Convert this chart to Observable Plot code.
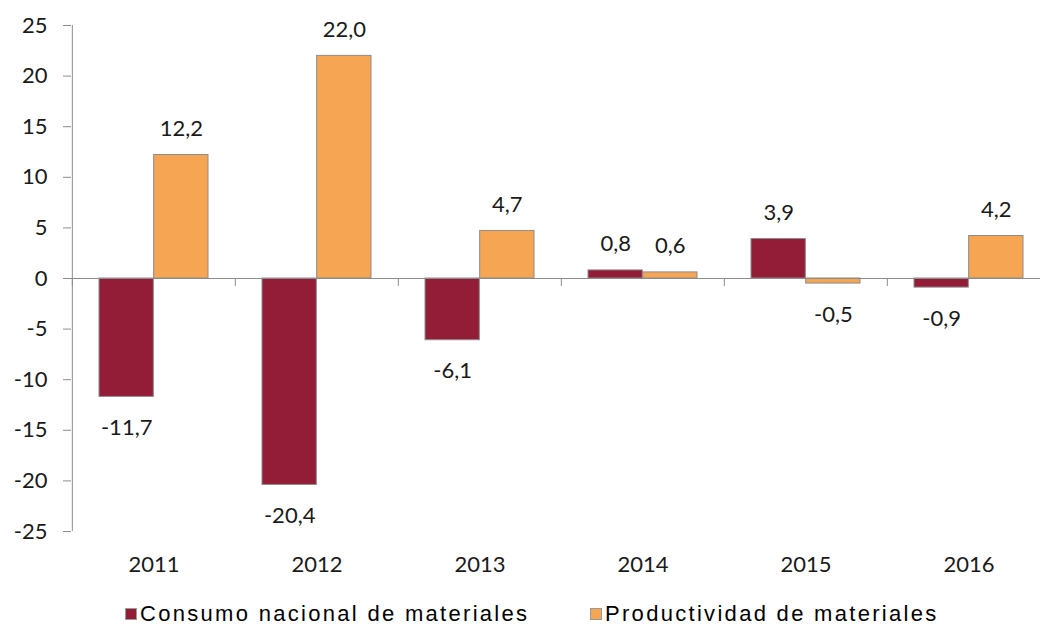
<!DOCTYPE html>
<html><head><meta charset="utf-8">
<script src="https://cdn.jsdelivr.net/npm/d3@7"></script>
<script src="https://cdn.jsdelivr.net/npm/@observablehq/plot@0.6"></script>
<style>
html,body{margin:0;padding:0;background:#fff;overflow:hidden;}
#wrap{width:1040px;overflow:hidden;}
#chart svg{display:block;max-width:none !important;}
#legend{position:relative;width:1040px;height:38px;font-family:"Liberation Sans",Arial,sans-serif;font-size:22px;letter-spacing:2.3px;color:#000;}
.item{position:absolute;top:11px;height:22px;display:flex;align-items:center;white-space:nowrap;}
.sw{width:10px;height:10px;border:1px solid #999;margin-right:3px;}
</style></head><body>
<div id="wrap"><div id="chart"></div><div id="legend"></div></div>
<script>
const years = ["2011","2012","2013","2014","2015","2016"];
const consumo = [-11.7,-20.4,-6.1,0.8,3.9,-0.9];
const productividad = [12.2,22.0,4.7,0.6,-0.5,4.2];
const seriesNames = ["Consumo nacional de materiales","Productividad de materiales"];
const colors = ["#931C37","#F6A553"];
const yTicks = [-25,-20,-15,-10,-5,0,5,10,15,20,25];

const fmt = v => v.toFixed(1).replace(".", ",");
const rowsC = years.map((year,i)=>({year, value: consumo[i]}));
const rowsP = years.map((year,i)=>({year, value: productividad[i]}));

const width = 1052, marginLeft = 71, marginRight = 1;
const step = (width - marginLeft - marginRight) / years.length;
const half = step / 2;
const gap = 27;
const barW = half - gap;
const dxC = -(barW / 2), dxP = barW / 2;
const grey = "#8c8c8c";
const yMin = d3.min(yTicks), yMax = d3.max(yTicks);

const labelMarks = (rows, dx) => [
  Plot.text(rows.filter(d=>d.value>=0), {x:"year", y:"value", text:d=>fmt(d.value), dx, dy:-26, lineAnchor:"middle", fill:"#1a1a1a"}),
  Plot.text(rows.filter(d=>d.value<0), {x:"year", y:"value", text:d=>fmt(d.value), dx, dy:31, lineAnchor:"middle", fill:"#1a1a1a"})
];

const chart = Plot.plot({
  width, height: 592,
  marginLeft, marginRight, marginTop: 25, marginBottom: 61,
  style: {fontFamily: "Lato, 'Open Sans', sans-serif", fontSize: "22px", color: "#1a1a1a", background: "#fff", maxWidth: "none"},
  x: {domain: years, padding: 0, label: null},
  y: {domain: [yMin, yMax], label: null},
  marks: [
    Plot.barY(rowsC, {x:"year", y1:0, y2:"value", fill: colors[0], stroke: grey, strokeWidth: 1, insetLeft: gap, insetRight: half}),
    Plot.barY(rowsP, {x:"year", y1:0, y2:"value", fill: colors[1], stroke: grey, strokeWidth: 1, insetLeft: half, insetRight: gap}),
    Plot.ruleY([0], {stroke: grey, strokeWidth: 1}),
    Plot.ruleX(years, {x: d=>d, y1: 0, y2: 0, insetBottom: -8, dx: -half, stroke: grey}),
    Plot.ruleX([years[0]], {x: d=>d, y1: yMin, y2: yMax, dx: -half, stroke: grey}),
    Plot.axisY({ticks: yTicks, tickSize: 8, tickPadding: 16, tickFormat: d=>String(d), stroke: grey, fill: "#1a1a1a", label: null}),
    Plot.axisX({tickSize: 0, tickPadding: 25, fill: "#1a1a1a", label: null}),
    ...labelMarks(rowsC, dxC),
    ...labelMarks(rowsP, dxP)
  ]
});
document.getElementById("chart").appendChild(chart);

const legend = document.getElementById("legend");
const lefts = [125, 590];
seriesNames.forEach((name, i) => {
  const it = document.createElement("div");
  it.className = "item";
  it.style.left = lefts[i] + "px";
  const sw = document.createElement("span");
  sw.className = "sw";
  sw.style.background = colors[i];
  const tx = document.createElement("span");
  tx.textContent = name;
  it.appendChild(sw); it.appendChild(tx);
  legend.appendChild(it);
});
</script>
</body></html>
